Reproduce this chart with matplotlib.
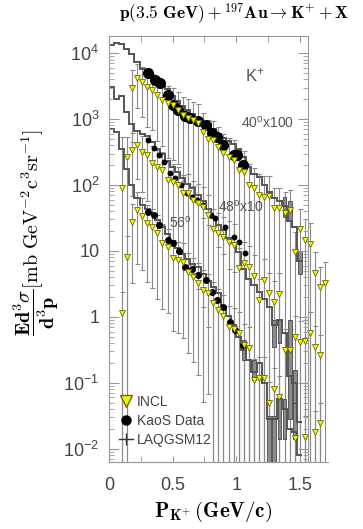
import numpy as np
import matplotlib
matplotlib.use("Agg")
import matplotlib.pyplot as plt
from matplotlib.lines import Line2D
from matplotlib.ticker import NullFormatter, LogLocator

# LAQGSM12 histogram bin edges (GeV/c)
p_edges = [0.00, 0.04, 0.08, 0.12, 0.16, 0.20, 0.24, 0.28, 0.32, 0.36,
           0.40, 0.44, 0.48, 0.52, 0.56, 0.60, 0.64, 0.68, 0.72, 0.76,
           0.80, 0.84, 0.88, 0.92, 0.96, 1.00, 1.04, 1.08, 1.12, 1.16,
           1.20, 1.24, 1.28, 1.32, 1.36, 1.40, 1.44, 1.48, 1.52]

# log10 of the histogram contents (already scaled x100 / x10 / x1)
laq40_log = [4.12, 4.15, 4.14, 4.07, 3.98, 3.86, 3.76, 3.72, 3.66, 3.58,
             3.52, 3.45, 3.35, 3.28, 3.20, 3.13, 3.08, 3.02, 2.96, 2.92,
             2.85, 2.78, 2.72, 2.66, 2.62, 2.55, 2.42, 2.28, 2.16, 2.12,
             2.00, 1.90, 1.80, 1.75, 1.68, 1.45, 1.36, 0.85]
laq48_log = [3.48, 3.30, 3.35, 3.10, 2.93, 2.82, 2.78, 2.74, 2.65, 2.55,
             2.47, 2.36, 2.27, 2.20, 2.10, 2.02, 1.95, 1.85, 1.75, 1.63,
             1.50, 1.40, 1.32, 1.20, 1.12, 0.98, 0.72, 0.58, 0.48, 0.38,
             0.27, 0.15, -0.12, -0.05, -0.25, -0.90, -1.00, -1.60]
laq56_log = [2.85, 2.80, 2.55, 2.25, 2.00, 1.80, 1.70, 1.63, 1.57, 1.47,
             1.37, 1.25, 1.15, 1.05, 0.95, 0.88, 0.80, 0.76, 0.65, 0.55,
             0.45, 0.36, 0.15, 0.02, -0.12, -0.30, -0.50, -0.65, -0.83, -0.70,
             -1.00, -1.55, -1.55, -1.25, -1.40, -1.70, -1.75, -2.10]

# LAQGSM12 error boxes (bin centre, log10 low, log10 high)
box40_p = [1.38, 1.42, 1.50]
box40_lo = [1.52, 1.45, 0.65]
box40_hi = [1.82, 1.75, 1.00]
box48_p = [1.30, 1.34, 1.42, 1.46]
box48_lo = [-0.45, -0.40, -1.55, -1.30]
box48_hi = [-0.05, -0.05, -0.05, -0.80]
box56_p = [1.06, 1.14, 1.26, 1.30, 1.34, 1.38, 1.46]
box56_lo = [-0.65, -0.95, -2.20, -2.20, -1.85, -1.85, -1.85]
box56_hi = [-0.35, -0.65, -1.50, -1.50, -1.20, -1.25, -1.30]

# INCL points
p_incl = [0.10, 0.14, 0.18, 0.22, 0.26, 0.30, 0.34, 0.38, 0.42, 0.46,
          0.50, 0.54, 0.58, 0.62, 0.66, 0.70, 0.74, 0.78, 0.82, 0.86,
          0.90, 0.94, 0.98, 1.02, 1.06, 1.10, 1.14, 1.18, 1.22, 1.26,
          1.30, 1.34, 1.38, 1.42, 1.46, 1.50, 1.54, 1.58, 1.62, 1.66, 1.70]
incl40_log = [3.47, 3.62, 3.56, 3.48, 3.44, 3.36, 3.29, 3.24, 3.21, 3.14,
              3.06, 3.02, 2.98, 2.94, 2.80, 2.70, 2.68, 2.58, 2.48, 2.42,
              2.38, 2.23, 2.20, 2.00, 1.95, 1.85, 1.82, 1.83, 1.65, 1.65,
              1.58, 1.62, 0.98, 1.33, 1.17, 1.11, 0.67, 0.45, 0.52]
incl48_log = [1.95, 2.42, 2.53, 2.61, 2.50, 2.45, 2.33, 2.27, 2.23, 2.08,
              2.05, 2.00, 1.88, 1.88, 1.77, 1.73, 1.67, 1.55, 1.33, 1.27,
              1.21, 1.14, 1.09, 0.74, 0.82, 0.76, 0.62, 0.26, 0.56, 0.36,
              0.23, 0.35, -0.50, -0.50, -0.30, -0.38, -0.36, -0.24, -0.45, -0.58]
incl56_log = [0.06, 0.91, 1.44, 1.62, 1.53, 1.42, 1.36, 1.27, 1.12, 1.06,
              0.89, 0.86, 0.83, 0.68, 0.61, 0.52, 0.41, 0.36, 0.21, 0.11,
              0.02, -0.15, -0.18, -0.24, -0.42, -0.47, -0.95, -0.92, -0.92, -1.30,
              -1.09, -1.21, np.nan, np.nan, -1.83, np.nan, -1.82, np.nan, -1.74, -1.61]
# relative INCL errors
incl40_rel = [0.85, 0.65, 0.70, 0.75, 0.75, 0.80, 0.80, 0.85, 0.85, 0.85,
              0.90, 0.90, 0.90, 0.92, 0.95, 0.95, 0.95, 0.97, 0.97, 0.98,
              0.98, 1.05, 1.05, 1.05, 1.05, 1.05, 1.05, 1.05, 1.05, 1.05,
              1.05, 1.05, 1.05, 1.05, 1.05, 1.05, 1.05, 1.05, 1.05]
incl48_rel = [5.00, 1.05, 0.80, 0.70, 0.75, 0.80, 0.80, 0.85, 0.85, 0.88,
              0.88, 0.90, 0.90, 0.92, 0.92, 0.95, 0.97, 0.98, 1.05, 1.05,
              1.05, 1.05, 1.05, 1.05, 1.05, 1.05, 1.05, 1.05, 1.05, 1.05,
              1.05, 1.05, 1.05, 1.05, 1.05, 1.05, 1.05, 1.05, 1.05, 1.05]
incl56_rel = [1.05, 1.05, 0.88, 0.85, 0.85, 0.87, 0.88, 0.90, 0.90, 0.90,
              0.92, 0.92, 0.93, 0.94, 0.95, 0.96, 0.98, 0.97, 1.05, 1.05,
              1.05, 1.05, 1.05, 1.05, 1.05, 1.05, 1.05, 1.05, 1.05, 1.05,
              1.05, 1.05, 1.05, 1.05, 1.05, 1.05, 1.05, 1.05, 1.05, 1.05]

# KaoS data
kaos40_p = [0.31, 0.36, 0.40, 0.46, 0.50, 0.54, 0.60, 0.64, 0.70, 0.76,
            0.81, 0.85, 0.90, 0.98, 1.01, 1.05]
kaos40_log = [3.70, 3.59, 3.55, 3.36, 3.21, 3.14, 3.05, 3.02, 2.97, 2.91,
              2.79, 2.73, 2.61, 2.45, 2.45, 2.30]
kaos48_p = [0.31, 0.35, 0.39, 0.43, 0.48, 0.52, 0.57, 0.61, 0.65, 0.69,
            0.74, 0.80, 0.83, 0.91, 0.98, 1.02, 1.07]
kaos48_log = [2.68, 2.56, 2.45, 2.35, 2.18, 2.11, 2.00, 1.88, 1.82, 1.77,
              1.70, 1.55, 1.50, 1.36, 1.21, 1.14, 0.97]
kaos56_p = [0.31, 0.35, 0.39, 0.46, 0.50, 0.55, 0.60, 0.65, 0.70, 0.76,
            0.81, 0.85, 0.90, 0.95, 0.99, 1.05]
kaos56_log = [1.59, 1.55, 1.39, 1.17, 1.12, 1.00, 0.76, 0.72, 0.64, 0.56,
              0.38, 0.26, 0.15, -0.08, -0.20, -0.42]

y_ticks = [1e-2, 1e-1, 1, 10, 1e2, 1e3, 1e4]
y_labels = ['$10^{-2}$', '$10^{-1}$', '1', '10', '$10^{2}$', '$10^{3}$', '$10^{4}$']
x_ticks = [0, 0.5, 1.0, 1.5]
x_labels = ['0', '0.5', '1', '1.5']

GRAY = '#999999'
TXT = '#444444'


def draw_incl(ax, p, vlog, rel):
    v = 10 ** np.array(vlog)
    err = v * np.array(rel)
    eb = ax.errorbar(p, v, yerr=err, fmt='none', ecolor='#8a8a8a',
                     elinewidth=0.8, capsize=1.8, capthick=0.8, zorder=1)
    for c in eb[1]:
        c.set_color('#333333')
    ax.plot(p, v, 'v', ms=4.5, mfc='#f2f20c', mec='#6b6b00', mew=0.6,
            zorder=6, linestyle='none')


def draw_laq(ax, vlog, bp, blo, bhi):
    ax.stairs(10 ** np.array(vlog), p_edges, color='#555555', lw=1.4,
              baseline=None, zorder=3)
    lo = 10 ** np.array(blo)
    hi = 10 ** np.array(bhi)
    ax.bar(bp, hi - lo, bottom=lo, width=0.03, color='#8c8c8c',
           edgecolor='#444444', lw=0.6, zorder=2)


if __name__ == "__main__":
    plt.rcParams['font.family'] = ['Liberation Sans', 'DejaVu Sans']
    plt.rcParams['mathtext.fontset'] = 'custom'
    plt.rcParams['mathtext.rm'] = 'Liberation Sans'
    plt.rcParams['mathtext.it'] = 'Liberation Sans:italic'
    plt.rcParams['mathtext.bf'] = 'Liberation Sans:bold'

    fig = plt.figure(figsize=(3.63, 5.29), dpi=100)
    ax = fig.add_axes([0.3003, 0.1267, 0.6033, 0.8053])
    axf = fig.add_axes([0.3003, 0.1267, 0.5482, 0.8053], facecolor='none')

    for a in (ax, axf):
        a.set_yscale('log')
        a.set_ylim(10 ** -2.2, 10 ** 4.26)
    ax.set_xlim(0, 1.722)
    axf.set_xlim(0, 1.565)

    # data axes: only the long bottom line
    for s in ['top', 'right', 'left']:
        ax.spines[s].set_visible(False)
    ax.spines['bottom'].set_color(GRAY)
    ax.tick_params(which='both', left=False, bottom=False,
                   labelleft=False, labelbottom=False)

    draw_incl(ax, p_incl[2:], incl40_log, incl40_rel)
    draw_incl(ax, p_incl[:40], incl48_log, incl48_rel)
    draw_incl(ax, p_incl[:40], incl56_log, incl56_rel)

    draw_laq(ax, laq40_log, box40_p, box40_lo, box40_hi)
    draw_laq(ax, laq48_log, box48_p, box48_lo, box48_hi)
    draw_laq(ax, laq56_log, box56_p, box56_lo, box56_hi)

    ax.plot(kaos40_p, 10 ** np.array(kaos40_log), 'o', color='black', ms=7, zorder=4)
    ax.plot(kaos48_p, 10 ** np.array(kaos48_log), 'o', color='black', ms=3.2, zorder=4)
    ax.plot(kaos56_p, 10 ** np.array(kaos56_log), 'o', color='black', ms=4.0, zorder=4)

    # frame axes
    for s in axf.spines.values():
        s.set_color(GRAY)
    axf.set_yticks(y_ticks, y_labels)
    axf.yaxis.set_minor_locator(LogLocator(base=10, subs=np.arange(2, 10)))
    axf.yaxis.set_minor_formatter(NullFormatter())
    axf.set_xticks(x_ticks, x_labels)
    axf.set_xticks([0.25, 0.75, 1.25], minor=True)
    axf.tick_params(which='both', direction='in', top=True, right=True,
                    color=GRAY, labelcolor=TXT)
    axf.tick_params(axis='y', which='major', length=7, pad=7, labelsize=13)
    axf.tick_params(axis='y', which='minor', length=3.5)
    axf.tick_params(axis='x', which='both', length=4, pad=11, labelsize=13)

    axf.text(0.734, 0.908, 'K$^{+}$', transform=axf.transAxes, ha='center',
             va='center', fontsize=12, color='#555555')
    axf.text(0.794, 0.796, '40$^{\\rm o}$x100', transform=axf.transAxes,
             ha='center', va='center', fontsize=10, color='#555555')
    axf.text(0.663, 0.599, '48$^{\\rm o}$x10', transform=axf.transAxes,
             ha='center', va='center', fontsize=10, color='#555555')
    axf.text(0.357, 0.561, '56$^{\\rm o}$', transform=axf.transAxes,
             ha='center', va='center', fontsize=10, color='#555555')

    h_incl = Line2D([], [], marker='v', ms=9, mfc='#f2f20c', mec='#6b6b00',
                    linestyle='none')
    h_kaos = Line2D([], [], marker='o', ms=6.5, color='black', linestyle='none')
    h_laq = Line2D([], [], marker='|', ms=9, color='#333333', lw=1)
    axf.legend([h_incl, h_kaos, h_laq], ['INCL', 'KaoS Data', 'LAQGSM12'],
               loc='lower left', bbox_to_anchor=(0.015, 0.02), frameon=False,
               fontsize=10, handlelength=1.0, handletextpad=0.3,
               labelspacing=0.35, borderpad=0, labelcolor=TXT)

    fig.text(0.645, 0.974,
             r'$\mathbf{p(3.5\ GeV)} + {}^{\mathbf{197}}\mathbf{Au} \rightarrow \mathbf{K^{+}} + \mathbf{X}$',
             ha='center', va='center', fontsize=12.5, math_fontfamily='cm')
    fig.text(0.587, 0.032, r'$\mathbf{P_{K^{+}}}\,\mathbf{(GeV/c)}$',
             ha='center', va='center', fontsize=15, math_fontfamily='cm')
    fig.text(0.1, 0.56,
             r'$\dfrac{\mathbf{Ed^{3}\sigma}}{\mathbf{d^{3}p}}[\mathrm{mb\ GeV^{-2}c^{3}sr^{-1}}]$',
             ha='center', va='center', rotation=90, fontsize=14.5,
             math_fontfamily='cm')

    fig.savefig('out.png', dpi=100)
